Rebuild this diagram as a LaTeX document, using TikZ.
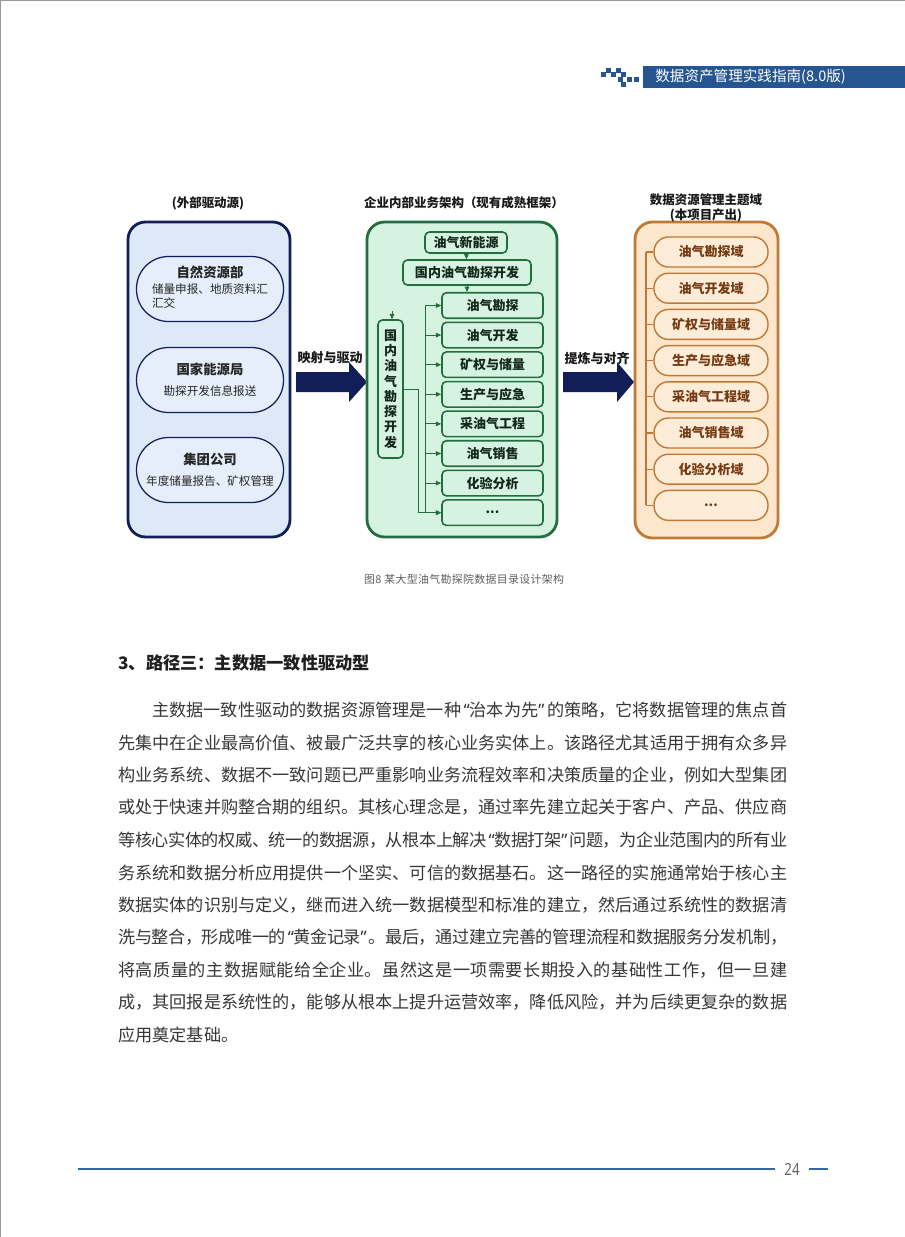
\documentclass[tikz,border=0pt]{standalone}
\usepackage{fontspec}
\setmainfont{Noto Sans CJK SC}
\newfontfamily\latinfont{Noto Sans}
\usetikzlibrary{positioning,arrows.meta}

\newcommand\fsz[2]{\fontsize{#1}{#2}\selectfont}
\newcommand\oq{\makebox[0.5em][r]{\latinfont “}}
\newcommand\cq{\makebox[0.5em][l]{\latinfont ”}}
\newcommand\etcdots{...}
\newcommand\spreadglue{\hskip 0pt plus 1fil minus 1fil\relax}
\ExplSyntaxOn
\NewDocumentCommand\spreadline{mm}
  { \hbox_to_wd:nn {#1} { \tl_map_inline:nn {#2} { ##1 \spreadglue } \unskip } }
\ExplSyntaxOff

\begin{document}
\begin{tikzpicture}[x=0.02cm, y=-0.02cm,
    paneltitle/.style={inner sep=0pt, font=\fsz{7.1pt}{8.5pt}\bfseries, text=black!90, align=center},
    srcpanel/.style={draw=navy, line width=1.6pt, fill=srcfill, rounded corners=0.35cm},
    srcitem/.style={draw=navy, line width=0.7pt, fill=srcitemfill, rounded corners=0.64cm,
        minimum width=2.94cm, minimum height=1.3cm, inner sep=0pt, align=center,
        font=\fsz{7.6pt}{9pt}, text=black!85},
    corepanel/.style={draw=coregreen, line width=1.6pt, fill=corefill, rounded corners=0.35cm},
    corebox/.style={draw=coregreen, line width=0.9pt, fill=corefill, rounded corners=2.5pt,
        inner sep=0pt, font=\fsz{7.4pt}{8.7pt}\bfseries, text=coretext, align=center},
    coreline/.style={draw=coregreen, line width=0.5pt},
    corearrow/.style={coreline, -{Triangle[length=3pt, width=2.6pt]}},
    dompanel/.style={draw=domline, line width=1.6pt, fill=domfill, rounded corners=0.35cm},
    domitem/.style={draw=domline, line width=0.8pt, fill=domitemfill, rounded corners=0.29cm,
        minimum width=2.28cm, minimum height=0.6cm, inner sep=0pt,
        font=\fsz{7.4pt}{9pt}\bfseries, text=domtext},
    arrowlabel/.style={inner sep=0pt, font=\fsz{7.4pt}{9pt}\bfseries, text=black!90},
    bodytext/.style={inner sep=0pt, anchor=west, font=\fsz{9.76pt}{12pt}, text=bodygray},
  ]
    % Define colors
    \definecolor{navy}{RGB}{18, 30, 88}
    \definecolor{srcfill}{RGB}{221, 233, 247}
    \definecolor{srcitemfill}{RGB}{229, 238, 250}
    \definecolor{coregreen}{RGB}{34, 110, 62}
    \definecolor{corefill}{RGB}{214, 243, 226}
    \definecolor{coretext}{RGB}{20, 40, 25}
    \definecolor{domline}{RGB}{192, 120, 52}
    \definecolor{domfill}{RGB}{252, 230, 204}
    \definecolor{domitemfill}{RGB}{253, 237, 216}
    \definecolor{domtext}{RGB}{118, 58, 18}
    \definecolor{hdrblue}{RGB}{38, 86, 145}
    \definecolor{footblue}{RGB}{52, 104, 160}
    \definecolor{bodygray}{RGB}{55, 55, 55}
    \definecolor{capgray}{RGB}{95, 95, 95}

    % Page and its edge
    \useasboundingbox (0,0) rectangle (905,1237);
    \fill[white] (0,0) rectangle (905,1237);
    \draw[black!40, line width=0.8pt] (0.7,1237) -- (0.7,0.7) -- (905,0.7);

    % Running header
    \fill[hdrblue] (643,66) rectangle (905,88);
    \foreach \sx/\sy in {606/68, 616/68, 601/72.5, 611/72.5, 621/72.5, 618/77, 627/77, 634/77, 621/82}
        \fill[hdrblue] (\sx,\sy) rectangle ++(4.6,4.6);
    \node[inner sep=0pt, anchor=west, text=white, font=\fsz{8.3pt}{9pt}] (hdr) at (655,77) {数据资产管理实践指南(8.0版)};

    % Left panel: external drivers
    \draw[srcpanel] (128,222) rectangle (290,537);
    \node[paneltitle] (srctitle) at (208,203) {(外部驱动源)};
    \node[srcitem] (mnr) at (210,289) {\textbf{自然资源部}\\[2pt]
        {\fsz{6.6pt}{8pt}\begin{tabular}{@{}l@{}}储量申报、地质资料汇\\汇交\end{tabular}}};
    \node[srcitem] (nea) at (210,380) {\textbf{国家能源局}\\[3pt] {\fsz{6.6pt}{8pt}勘探开发信息报送}};
    \node[srcitem] (group) at (210,470) {\textbf{集团公司}\\[3pt] {\fsz{6.6pt}{8pt}年度储量报告、矿权管理}};

    % Arrow: mapping
    \node[arrowlabel] (maplabel) at (330,358) {映射与驱动};
    \fill[navy] (296,372) -- (349,372) -- (349,362) -- (367,382) -- (349,402) -- (349,392) -- (296,392) -- cycle;

    % Middle panel: business architecture
    \draw[corepanel] (367,222) rectangle (557,537);
    \node[paneltitle] (coretitle) at (464,203) {企业内部业务架构（现有成熟框架）};
    \node[corebox, minimum width=1.64cm, minimum height=0.42cm] (newenergy) at (466,242.5) {油气新能源};
    \node[corebox, minimum width=2.56cm, minimum height=0.5cm] (domestic) at (467,272.5) {国内油气勘探开发};
    \node[corebox, minimum width=0.5cm, minimum height=2.76cm] (vbox) at (390.5,389)
        {国\\内\\油\\气\\勘\\探\\开\\发};
    \foreach \txt [count=\i from 0] in {油气勘探,油气开发,矿权与储量,生产与应急,采油气工程,油气销售,化验分析,\etcdots}
        \node[corebox, minimum width=2.02cm, minimum height=0.51cm] (unit\i) at (492.5,305.5+29.6*\i) {\txt};

    % Middle panel connectors
    \draw[corearrow] (newenergy) -- (domestic);
    \draw[corearrow] (domestic.south) -- (domestic.south |- unit0.north);
    \coordinate (vtop) at (392,311);
    \draw[corearrow] (vtop) -- (vtop |- vbox.north);
    \coordinate (fork) at (418,389);
    \coordinate (busx) at (425,0);
    \draw[corearrow] (vbox.east) -- (fork) |- (unit7.west);
    \draw[coreline] (busx |- unit0.west) -- (busx |- unit7.west);
    \foreach \i in {0,...,7}
        \draw[corearrow] (busx |- unit\i.west) -- (unit\i.west);

    % Arrow: refining
    \node[arrowlabel] (alignlabel) at (597,358) {提炼与对齐};
    \fill[navy] (563,372) -- (617,372) -- (617,362) -- (634,382) -- (617,402) -- (617,392) -- (563,392) -- cycle;

    % Right panel: subject domains
    \draw[dompanel] (635,222) rectangle (778,538);
    \node[paneltitle] (domtitle) at (706,207.5) {数据资源管理主题域\\(本项目产出)};
    \foreach \txt [count=\i from 0] in {油气勘探域,油气开发域,矿权与储量域,生产与应急域,采油气工程域,油气销售域,化验分析域,\etcdots}
        \node[domitem] (dom\i) at (711,252+36.2*\i) {\txt};
    \coordinate (spine) at (646,0);
    \draw[domline, line width=0.6pt] (spine |- dom0.west) -- (spine |- dom7.west);
    \foreach \i in {0,...,7}
        \draw[domline, line width=0.6pt] (spine |- dom\i.west) -- (dom\i.west);

    % Caption
    \node[inner sep=0pt, text=capgray, font=\fsz{6.2pt}{8pt}] (caption) at (464,579)
        {\spreadline{4.0cm}{图8\ 某大型油气勘探院数据目录设计架构}};

    % Section heading
    \node[inner sep=0pt, anchor=west, text=black!88, font=\fsz{9.8pt}{12pt}\bfseries] (heading) at (118,663)
        {3、路径三：主数据一致性驱动型};

    % Body text
    \node[bodytext] (line1) at (152,710) {\spreadline{12.70cm}{主数据一致性驱动的数据资源管理是一种\oq 治本为先\cq 的策略，它将数据管理的焦点首}};
    \node[bodytext] (line2) at (118,742.5) {\spreadline{13.38cm}{先集中在企业最高价值、被最广泛共享的核心业务实体上。该路径尤其适用于拥有众多异}};
    \node[bodytext] (line3) at (118,775) {\spreadline{13.38cm}{构业务系统、数据不一致问题已严重影响业务流程效率和决策质量的企业，例如大型集团}};
    \node[bodytext] (line4) at (118,807.5) {\spreadline{13.38cm}{或处于快速并购整合期的组织。其核心理念是，通过率先建立起关于客户、产品、供应商}};
    \node[bodytext] (line5) at (118,840) {\spreadline{13.38cm}{等核心实体的权威、统一的数据源，从根本上解决\oq 数据打架\cq 问题，为企业范围内的所有业}};
    \node[bodytext] (line6) at (118,872.5) {\spreadline{13.38cm}{务系统和数据分析应用提供一个坚实、可信的数据基石。这一路径的实施通常始于核心主}};
    \node[bodytext] (line7) at (118,905) {\spreadline{13.38cm}{数据实体的识别与定义，继而进入统一数据模型和标准的建立，然后通过系统性的数据清}};
    \node[bodytext] (line8) at (118,937.5) {\spreadline{13.38cm}{洗与整合，形成唯一的\oq 黄金记录\cq 。最后，通过建立完善的管理流程和数据服务分发机制，}};
    \node[bodytext] (line9) at (118,970) {\spreadline{13.38cm}{将高质量的主数据赋能给全企业。虽然这是一项需要长期投入的基础性工作，但一旦建}};
    \node[bodytext] (line10) at (118,1002.5) {\spreadline{13.38cm}{成，其回报是系统性的，能够从根本上提升运营效率，降低风险，并为后续更复杂的数据}};
    \node[bodytext] (line11) at (118,1035) {应用奠定基础。};

    % Footer
    \node[inner sep=0pt, text=black!60, font=\latinfont\fsz{9.5pt}{11pt}] (pageno) at (792,1169) {\scalebox{0.8}[1]{24}};
    \draw[footblue, line width=0.9pt] (78,1169) -- ([xshift=-5pt]pageno.west);
    \draw[footblue, line width=0.9pt] ([xshift=5pt]pageno.east) -- (828,1169);
\end{tikzpicture}
\end{document}
